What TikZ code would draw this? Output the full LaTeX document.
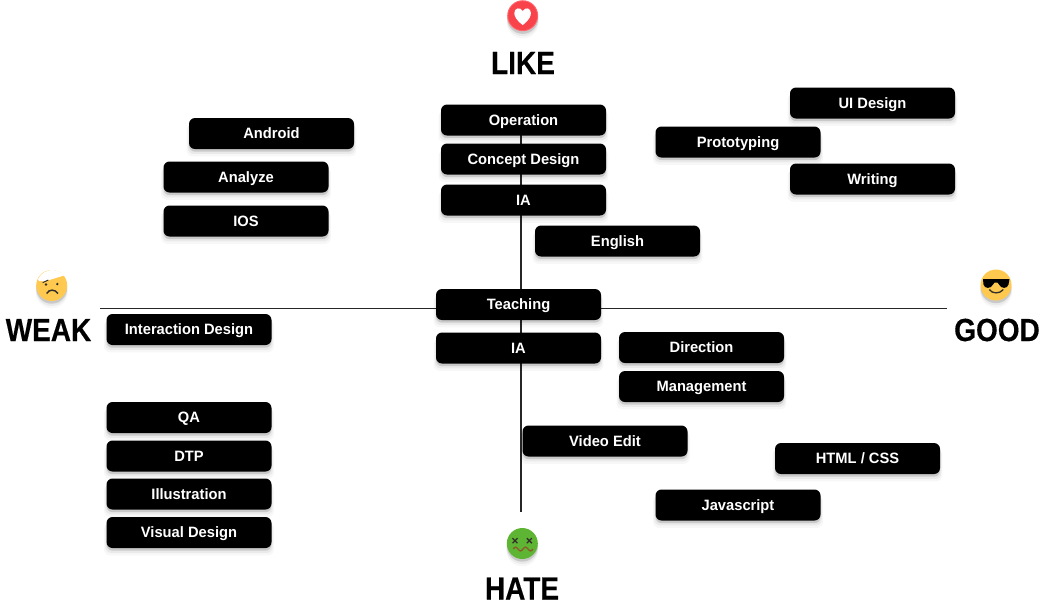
\documentclass[tikz,border=0pt]{standalone}
\usepackage{fontspec}
\setmainfont{Liberation Sans}
\newfontfamily\boxfont[FakeStretch=.98]{Liberation Sans}
\newfontfamily\titlefont[FakeStretch=.875,BoldFeatures={FakeBold=.3}]{Liberation Sans}
\usetikzlibrary{shadows}
\definecolor{likered}{HTML}{F9434B}
\definecolor{likerim}{HTML}{FF6A70}
\definecolor{faceyellow}{HTML}{FFC94F}
\definecolor{hategreen}{HTML}{5DB533}
\definecolor{hatebrown}{HTML}{8A5A2B}
\definecolor{faceink}{HTML}{33302B}
\tikzset{
    softshadow/.style={
        general shadow={shadow xshift=0pt, shadow yshift=-5pt, fill=black, opacity=.03, shadow scale=1.03},
        general shadow={shadow xshift=0pt, shadow yshift=-3.5pt, fill=black, opacity=.05, shadow scale=1.015},
        general shadow={shadow xshift=0pt, shadow yshift=-2pt, fill=black, opacity=.14}},
    skillbox/.style={fill=black, text=white, rounded corners=4.5pt, minimum width=123.75pt,
        minimum height=23.25pt, inner sep=0pt, text height=8pt, text depth=0pt,
        font=\boxfont\fontsize{11.25}{13}\selectfont\bfseries, softshadow},
    axistitle/.style={font=\titlefont\fontsize{24}{28}\selectfont\bfseries, text=black, inner sep=0pt},
    facedisc/.style={circle, minimum size=23.25pt, inner sep=0pt, softshadow},
    axisline/.style={line width=1pt, black!85}
}
\begin{document}
\begin{tikzpicture}[x=.75pt, y=-.75pt]
    \useasboundingbox (0,0) rectangle (1045,612);

    \coordinate (axistop) at (521,105);
    \coordinate (axisbottom) at (521,512);
    \coordinate (axisleft) at (100,308.5);
    \coordinate (axisright) at (947,308.5);
    \draw[axisline] (axisleft)--(axisright);
    \draw[axisline] (axistop)--(axisbottom);

    \node[skillbox] (operation) at (523.5,120){Operation};
    \node[skillbox] (concept) at (523.5,159){Concept Design};
    \node[skillbox] (ialike) at (523.5,200){IA};
    \node[skillbox] (english) at (617.5,241){English};
    \node[skillbox] (android) at (271.5,133.5){Android};
    \node[skillbox] (analyze) at (246,177){Analyze};
    \node[skillbox] (ios) at (246,221){IOS};
    \node[skillbox] (uidesign) at (872.5,103){UI Design};
    \node[skillbox] (prototyping) at (738,142){Prototyping};
    \node[skillbox] (writing) at (872.5,179){Writing};
    \node[skillbox] (teaching) at (518.5,304.5){Teaching};
    \node[skillbox] (interaction) at (189,329.5){Interaction Design};
    \node[skillbox] (iahate) at (518.5,348){IA};
    \node[skillbox] (direction) at (701.5,347.5){Direction};
    \node[skillbox] (management) at (701.5,386.5){Management};
    \node[skillbox] (qa) at (189,417.5){QA};
    \node[skillbox] (dtp) at (189,456){DTP};
    \node[skillbox] (illustration) at (189,494){Illustration};
    \node[skillbox] (visual) at (189,532.5){Visual Design};
    \node[skillbox] (video) at (605,441){Video Edit};
    \node[skillbox] (html) at (857.5,458.5){HTML / CSS};
    \node[skillbox] (javascript) at (738,505){Javascript};

    \node[axistitle] (like) at (523,63){LIKE};
    \node[axistitle] (weak) at (48.5,330){WEAK};
    \node[axistitle] (good) at (997,330){GOOD};
    \node[axistitle] (hate) at (522,588.5){HATE};

    % heart
    \node[facedisc, fill=likerim] (heartface) at (522.7,15.7){};
    \fill[likered] (522.7,15.7) circle (14.5);
    \fill[white] (522.7,25) .. controls (516,20) and (514.3,16) .. (514.3,13)
        .. controls (514.3,8) and (520,6.5) .. (522.7,11)
        .. controls (525.4,6.5) and (530.9,8) .. (530.9,13)
        .. controls (530.9,16) and (529.4,20) .. (522.7,25);

    % bandage
    \node[facedisc, fill=faceyellow] (weakface) at (51.7,285.5){};
    \fill[white] (38,279) .. controls (41,273) and (47,270) .. (52,270)
        .. controls (56,270) and (61,272) .. (64,275.5)--(46,281)--(39,281)--cycle;
    \fill[faceink] (57.3,284) circle (1.3);
    \fill[faceink] (46,284.5) circle (1.3);
    \draw[faceink, line width=.7pt] (42.7,282.7)--(48.3,280);
    \draw[faceink, line width=1.1pt] (46.7,293.5) .. controls (49,289) and (55,289) .. (58,293.5);

    % sunglasses
    \node[facedisc, fill=faceyellow] (goodface) at (996,285){};
    \fill[black] (983,279)--(1009.5,279)--(1008.5,284.5) .. controls (1007.5,289) and (1001,289) .. (999,284.5)
        --(997.5,282.5)--(994.5,282.5)--(993,284.5) .. controls (991,289) and (984.5,289) .. (983.5,284.5)--cycle;
    \draw[faceink, line width=1pt] (989.3,289.5) .. controls (992,294) and (1000,294) .. (1003.3,289.5);

    % sick
    \node[facedisc, fill=hategreen] (hateface) at (522.3,543.5){};
    \foreach \ex in {515,529.3}
    {
        \draw[faceink, line width=1pt] (\ex-2.5,538.2)--(\ex+2.5,543.2);
        \draw[faceink, line width=1pt] (\ex-2.5,543.2)--(\ex+2.5,538.2);
    }
    \draw[hatebrown, line width=1pt] (513.3,549) .. controls (515,546.5) and (516,546.5) .. (518,549)
        .. controls (520,551.5) and (521,551.5) .. (523,549)
        .. controls (525,546.5) and (526,546.5) .. (528,549)
        .. controls (530,551.5) and (531,551.5) .. (533,549);
\end{tikzpicture}
\end{document}
